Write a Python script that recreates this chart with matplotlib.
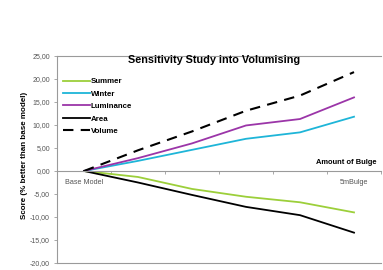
import matplotlib.pyplot as plt
from matplotlib.ticker import FixedLocator, FuncFormatter

plt.rcParams['font.family'] = ['Liberation Sans', 'DejaVu Sans']

# data
categories = ['Base Model', '1mBulge', '2mBulge', '3mBulge', '4mBulge', '5mBulge']
tick_labels = ['Base Model', '', '', '', '', '5mBulge']
summer = [0.0, -1.3, -3.9, -5.6, -6.8, -9.0]
winter = [0.0, 2.2, 4.6, 7.0, 8.4, 11.8]
luminance = [0.0, 2.8, 6.0, 9.9, 11.3, 16.0]
area = [0.0, -2.5, -5.2, -7.8, -9.6, -13.4]
volume = [0.0, 4.5, 8.6, 13.1, 16.4, 21.5]

grey = '#9a9a9a'
txt = '#555555'

fig = plt.figure(figsize=(3.83, 2.70), dpi=100)
ax = fig.add_axes([57 / 383, 7 / 270, 324 / 383, 207 / 270])

x = range(len(categories))
ax.plot(x, summer, color='#9ccf3a', lw=1.3, label='Summer')
ax.plot(x, winter, color='#1eb5d8', lw=1.3, label='Winter')
ax.plot(x, luminance, color='#9b35a8', lw=1.3, label='Luminance')
ax.plot(x, area, color='black', lw=1.3, label='Area')
ax.plot(x, volume, color='black', lw=1.5, dashes=(5, 3.5), label='Volume')

ax.set_xlim(-0.5, len(categories) - 0.5)
ax.set_ylim(-20, 25)

# spines: left, top, and the category axis sitting at zero
ax.spines['right'].set_visible(False)
for s in ['left', 'top', 'bottom']:
    ax.spines[s].set_color(grey)
    ax.spines[s].set_linewidth(0.8)
ax.spines['bottom'].set_position(('data', 0))
ax.axhline(-20, color=grey, lw=0.8, clip_on=False)

ax.set_yticks(range(-20, 26, 5))
ax.yaxis.set_major_formatter(FuncFormatter(lambda v, p: ('%.2f' % v).replace('.', ',')))
ax.tick_params(axis='y', colors=grey, labelcolor=txt, labelsize=5.0, length=2.5, width=0.6, pad=2.5)

ax.set_xticks(list(x))
ax.set_xticklabels(tick_labels)
ax.xaxis.set_minor_locator(FixedLocator([i + 0.5 for i in range(-1, len(categories))]))
ax.tick_params(axis='x', which='major', length=0, labelcolor=txt, labelsize=5.2, pad=6)
ax.tick_params(axis='x', which='minor', length=2.5, width=0.6, color=grey)

fig.text(214 / 383, 1 - 60 / 270, 'Sensitivity Study into Volumising', fontsize=7.8,
         fontweight='bold', ha='center', va='center')
fig.text(376 / 383, 1 - 163 / 270, 'Amount of Bulge', fontsize=5.4,
         fontweight='bold', ha='right', va='center')
fig.text(25 / 383, 1 - 155 / 270, 'Score (% better than base model)', fontsize=5.8,
         fontweight='bold', rotation=90, ha='center', va='center')

leg = ax.legend(loc='upper left', bbox_to_anchor=(0.018, 0.895), frameon=False,
                prop={'weight': 'bold', 'size': 5.7}, handlelength=3.4,
                handletextpad=0.1, labelspacing=0.62, borderpad=0, borderaxespad=0)

fig.savefig('out.png', dpi=100)
